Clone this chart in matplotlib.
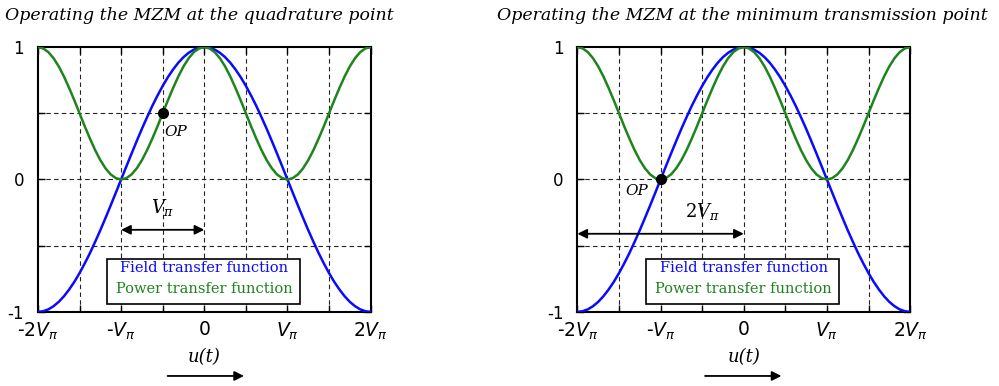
import matplotlib.pyplot as plt

# normalized drive voltage u/V_pi, sampled every 1/16
u = [-2.0, -1.9375, -1.875, -1.8125, -1.75, -1.6875, -1.625, -1.5625,
     -1.5, -1.4375, -1.375, -1.3125, -1.25, -1.1875, -1.125, -1.0625,
     -1.0, -0.9375, -0.875, -0.8125, -0.75, -0.6875, -0.625, -0.5625,
     -0.5, -0.4375, -0.375, -0.3125, -0.25, -0.1875, -0.125, -0.0625,
     0.0, 0.0625, 0.125, 0.1875, 0.25, 0.3125, 0.375, 0.4375,
     0.5, 0.5625, 0.625, 0.6875, 0.75, 0.8125, 0.875, 0.9375,
     1.0, 1.0625, 1.125, 1.1875, 1.25, 1.3125, 1.375, 1.4375,
     1.5, 1.5625, 1.625, 1.6875, 1.75, 1.8125, 1.875, 1.9375, 2.0]
field = [-1.0, -0.995, -0.981, -0.957, -0.924, -0.882, -0.831, -0.773,
         -0.707, -0.634, -0.556, -0.471, -0.383, -0.290, -0.195, -0.098,
         0.0, 0.098, 0.195, 0.290, 0.383, 0.471, 0.556, 0.634,
         0.707, 0.773, 0.831, 0.882, 0.924, 0.957, 0.981, 0.995,
         1.0, 0.995, 0.981, 0.957, 0.924, 0.882, 0.831, 0.773,
         0.707, 0.634, 0.556, 0.471, 0.383, 0.290, 0.195, 0.098,
         0.0, -0.098, -0.195, -0.290, -0.383, -0.471, -0.556, -0.634,
         -0.707, -0.773, -0.831, -0.882, -0.924, -0.957, -0.981, -0.995, -1.0]
power = [1.0, 0.990, 0.962, 0.916, 0.854, 0.778, 0.691, 0.598,
         0.5, 0.402, 0.309, 0.222, 0.146, 0.084, 0.038, 0.010,
         0.0, 0.010, 0.038, 0.084, 0.146, 0.222, 0.309, 0.402,
         0.5, 0.598, 0.691, 0.778, 0.854, 0.916, 0.962, 0.990,
         1.0, 0.990, 0.962, 0.916, 0.854, 0.778, 0.691, 0.598,
         0.5, 0.402, 0.309, 0.222, 0.146, 0.084, 0.038, 0.010,
         0.0, 0.010, 0.038, 0.084, 0.146, 0.222, 0.309, 0.402,
         0.5, 0.598, 0.691, 0.778, 0.854, 0.916, 0.962, 0.990, 1.0]

xtick_pos = [-2, -1.5, -1, -0.5, 0, 0.5, 1, 1.5, 2]
xtick_labels = [r'-2$V_\pi$', '', r'-$V_\pi$', '', '0', '', r'$V_\pi$', '', r'2$V_\pi$']
ytick_pos = [-1, -0.5, 0, 0.5, 1]
ytick_labels = ['-1', '', '0', '', '1']

titles = ['Operating the MZM at the quadrature point',
          'Operating the MZM at the minimum transmission point']
op_points = [(-0.5, 0.5), (-1, 0)]
span_arrows = [(-1, 0), (-2, 0)]
span_labels = [r'$V_\pi$', r'2$V_\pi$']

blue = '#0a0aff'
green = '#1e841e'
serif = 'DejaVu Serif'

plt.rcParams['mathtext.fontset'] = 'dejavusans'
fig = plt.figure(figsize=(9.99, 3.86), dpi=100)

lefts = [0.038, 0.578]
title_x = [0.005, 0.497]
arrow_x = [(0.165, 0.247), (0.703, 0.785)]
for i in range(2):
    ax = fig.add_axes([lefts[i], 0.192, 0.333, 0.686])
    ax.plot(u, field, color=blue, lw=1.8, zorder=3)
    ax.plot(u, power, color=green, lw=1.8, zorder=3)
    ax.set_xlim(-2, 2)
    ax.set_ylim(-1, 1)
    for g in [-1.5, -1, -0.5, 0, 0.5, 1, 1.5]:
        ax.axvline(g, color='#222222', lw=0.8, ls=(0, (4, 3)), zorder=1)
    for g in [-0.5, 0, 0.5]:
        ax.axhline(g, color='#222222', lw=0.8, ls=(0, (4, 3)), zorder=1)
    ax.set_xticks(xtick_pos)
    ax.set_xticklabels(xtick_labels)
    ax.set_yticks(ytick_pos)
    ax.set_yticklabels(ytick_labels)
    ax.tick_params(direction='in', top=True, right=True, length=5, width=1)
    ax.tick_params(axis='x', labelsize=13.5, pad=6)
    ax.tick_params(axis='y', labelsize=12, pad=10)
    for s in ax.spines.values():
        s.set_linewidth(1.5)

    fig.text(title_x[i], 0.96, titles[i], fontsize=12.5, family=serif,
             style='italic', ha='left', va='center')

    px, py = op_points[i]
    ax.plot(px, py, 'o', color='k', ms=7, zorder=5)
    if i == 0:
        ax.text(px + 0.02, py - 0.14, 'OP', family=serif, style='italic',
                fontsize=11, ha='left', va='center')
    else:
        ax.text(px - 0.15, py - 0.09, 'OP', family=serif, style='italic',
                fontsize=11, ha='right', va='center')

    a0, a1 = span_arrows[i]
    ay = -0.38 if i == 0 else -0.41
    ax.annotate('', xy=(a0, ay), xytext=(a1, ay),
                arrowprops=dict(arrowstyle='<|-|>', color='k', lw=1.3,
                                mutation_scale=14, shrinkA=0, shrinkB=0))
    ax.text(-0.5, ay + 0.17, span_labels[i], fontsize=13,
            family=serif, ha='center', va='center',
            math_fontfamily='dejavuserif')

    ax.text(0, -0.67, 'Field transfer function', color=blue, family=serif,
            fontsize=10.5, ha='center', va='center', zorder=6)
    ax.text(0, -0.83, 'Power transfer function', color=green, family=serif,
            fontsize=10.5, ha='center', va='center', zorder=6)
    ax.add_patch(plt.Rectangle((-1.17, -0.94), 2.32, 0.34, facecolor='white',
                               edgecolor='k', lw=1.2, zorder=5))

    fig.text(lefts[i] + 0.1665, 0.075, 'u(t)', family=serif,
             style='italic', fontsize=13, ha='center', va='center')
    ax0, ax1 = arrow_x[i]
    fig.add_artist(plt.matplotlib.patches.FancyArrowPatch(
        (ax0, 0.026), (ax1, 0.026), transform=fig.transFigure,
        arrowstyle='-|>', color='k', lw=1.3, mutation_scale=14))

fig.savefig('out.png', dpi=100)
